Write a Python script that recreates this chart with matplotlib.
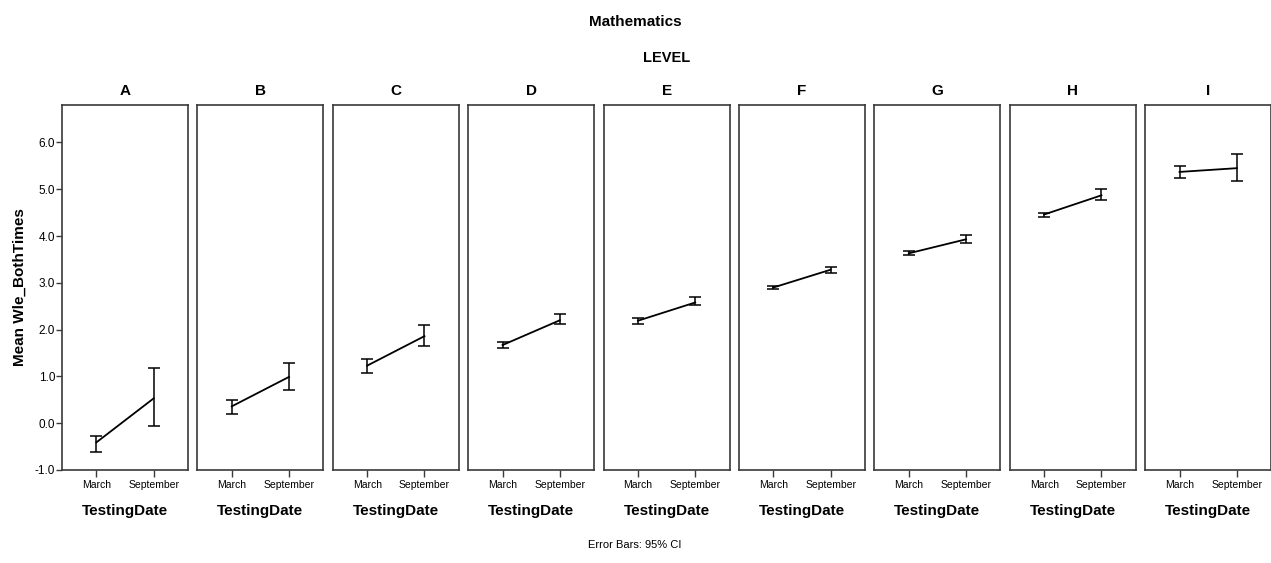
import matplotlib.pyplot as plt
import numpy as np

plt.rcParams['font.family'] = ['Liberation Sans', 'DejaVu Sans']

levels = ['A', 'B', 'C', 'D', 'E', 'F', 'G', 'H', 'I']
dates = ['March', 'September']

# mean and 95% CI bounds per level, (March, September)
means = [(-0.41, 0.53), (0.36, 0.99), (1.23, 1.86), (1.67, 2.20), (2.19, 2.58),
         (2.90, 3.28), (3.63, 3.93), (4.46, 4.87), (5.37, 5.45)]
ci_low = [(-0.62, -0.07), (0.19, 0.72), (1.07, 1.65), (1.61, 2.12), (2.13, 2.52),
          (2.86, 3.21), (3.59, 3.86), (4.40, 4.76), (5.24, 5.17)]
ci_high = [(-0.27, 1.17), (0.50, 1.29), (1.38, 2.10), (1.74, 2.34), (2.24, 2.69),
           (2.93, 3.34), (3.68, 4.03), (4.50, 5.01), (5.49, 5.76)]
yticks = [-1.0, 0.0, 1.0, 2.0, 3.0, 4.0, 5.0, 6.0]

fig = plt.figure(figsize=(12.71, 5.63), dpi=100)

W, H = 1271, 563
left0, step, pw = 62, 135.4, 126
top, bottom = 105, 470
frame_col = '#3a3a3a'

for i, lev in enumerate(levels):
    x0 = left0 + i * step
    ax = fig.add_axes([x0 / W, 1 - bottom / H, pw / W, (bottom - top) / H])
    x = np.arange(len(dates))
    m = np.array(means[i])
    lo = m - np.array(ci_low[i])
    hi = np.array(ci_high[i]) - m
    ax.errorbar(x, m, yerr=[lo, hi], color='black', lw=1.3, capsize=4.5,
                capthick=1.1, elinewidth=1.1)
    ax.set_xlim(-0.6, 1.6)
    ax.set_ylim(-1.0, 6.8)
    for s in ax.spines.values():
        s.set_color(frame_col)
        s.set_linewidth(1.2)
    ax.set_xticks(x)
    ax.set_xticklabels(dates, fontsize=7.5)
    ax.tick_params(axis='x', length=5, width=1, color=frame_col, pad=2)
    ax.set_xlabel('TestingDate', fontsize=11, fontweight='bold', labelpad=10)
    ax.set_title(lev, fontsize=11, fontweight='bold', pad=7)
    if i == 0:
        ax.set_yticks(yticks)
        ax.set_yticklabels([f'{v:.1f}' for v in yticks], fontsize=8.5)
        ax.tick_params(axis='y', length=4, width=1, color=frame_col, pad=1)
        ax.set_ylabel('Mean Wle_BothTimes', fontsize=11, fontweight='bold',
                      labelpad=6)
    else:
        ax.set_yticks([])

fig.text(635 / W, 1 - 22 / H, 'Mathematics', ha='center', va='center',
         fontsize=11, fontweight='bold')
fig.text(667 / W, 1 - 58 / H, 'LEVEL', ha='center', va='center',
         fontsize=10.5, fontweight='bold')
fig.text(635 / W, 1 - 545 / H, 'Error Bars: 95% CI', ha='center', va='center',
         fontsize=8)

fig.savefig('out.png', dpi=100, facecolor='white')
